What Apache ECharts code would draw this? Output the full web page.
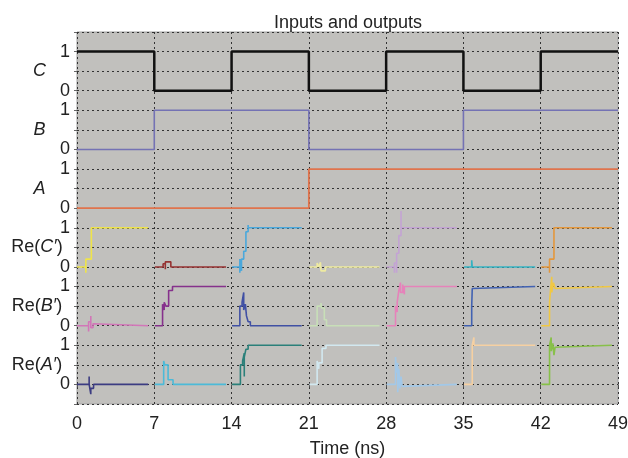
<!DOCTYPE html>
<html>
<head>
<meta charset="utf-8">
<script src="https://cdn.jsdelivr.net/npm/echarts@6/dist/echarts.min.js"></script>
<style>
    html, body { margin: 0; padding: 0; background: #fff; }
    #chart { width: 628px; height: 458px; }
</style>
</head>
<body>
<div id="chart"></div>
<script>
// input levels, one per 7 ns slot
const slotStarts = [0, 7, 14, 21, 28, 35, 42];
const endTime = 49;
const levelC = [1, 0, 1, 0, 1, 0, 1];
const levelB = [0, 1, 1, 0, 0, 1, 1];
const levelA = [0, 0, 0, 1, 1, 1, 1];

// output traces, [time, value] per slot
const outC = [
    [[0,0],[0.8,0],[0.8,-0.15],[0.8,0.2],[1.3,0.2],[1.3,1],[6.45,1]],
    [[7.05,0],[7.8,0],[7.8,0.08],[8.0,0.08],[8.0,-0.06],[8.0,0.13],[8.5,0.13],[8.5,0],[13.5,0]],
    [[14.05,0],[14.75,0],[14.75,-0.15],[14.75,0.2],[14.9,0.2],[14.9,-0.1],[14.9,0.2],[15.1,0.2],[15.1,0.4],[15.3,0.4],[15.3,0.9],[15.5,0.9],[15.5,1.07],[15.5,1],[20.35,1]],
    [[21.05,0],[21.75,0],[21.75,0.1],[21.9,0.1],[21.9,0],[22.05,0],[22.05,0.12],[22.1,0.12],[22.1,-0.1],[22.5,-0.1],[22.5,0],[27.4,0]],
    [[28.05,0],[28.75,0],[28.75,-0.15],[28.75,0.1],[28.95,0.1],[28.95,-0.15],[28.95,0.35],[29.15,0.35],[29.15,0.8],[29.35,0.8],[29.35,1.43],[29.35,1],[34.4,1]],
    [[35.05,0],[35.75,0],[35.75,0.17],[35.8,0.17],[35.8,0],[41.5,0]],
    [[42.05,0],[42.8,0],[42.8,-0.15],[42.8,0.2],[43.2,0.2],[43.2,1],[48.45,1]]
];
const outB = [
    [[0,0],[1.05,0],[1.05,-0.15],[1.05,0.1],[1.25,0.1],[1.25,0.25],[1.25,-0.05],[1.45,-0.05],[1.45,0.05],[1.6,0.05],[1.6,0],[6.45,0]],
    [[7.05,0],[7.75,0],[7.75,0.55],[7.9,0.55],[7.9,0.4],[7.9,0.6],[8.05,0.6],[8.05,0.5],[8.3,0.5],[8.3,0.9],[8.65,0.9],[8.65,1],[13.5,1]],
    [[14.05,0],[14.75,0],[14.75,0.5],[14.95,0.5],[14.95,0.6],[15.1,0.6],[15.1,0.85],[15.1,0.4],[15.25,0.4],[15.25,0.55],[15.35,0.55],[15.35,0.25],[15.5,0.25],[15.5,0.1],[15.7,0.1],[15.7,0],[20.35,0]],
    [[21.05,0],[21.75,0],[21.75,0.5],[22.1,0.5],[22.1,0.58],[22.15,0.58],[22.15,0.45],[22.4,0.45],[22.4,0.15],[22.6,0.15],[22.6,0],[27.4,0]],
    [[28.05,0],[28.85,0],[28.85,0.5],[29.0,0.5],[29.0,0.35],[29.0,0.6],[29.15,0.6],[29.15,0.9],[29.3,0.9],[29.3,1.1],[29.3,0.85],[29.5,0.85],[29.5,1.05],[29.65,1.05],[29.65,0.8],[29.65,1],[34.4,1]],
    [[35.05,0],[35.75,0],[35.75,0.5],[35.8,0.5],[35.8,0.95],[35.95,0.95],[35.95,1],[41.5,1]],
    [[42.05,0],[42.8,0],[42.8,0.6],[42.9,0.6],[42.9,0.95],[43.0,0.95],[43.0,1.25],[43.0,0.85],[43.15,0.85],[43.15,1.1],[43.3,1.1],[43.3,0.95],[43.45,0.95],[43.45,1],[48.45,1]]
];
const outA = [
    [[0,0],[1.1,0],[1.1,0.2],[1.1,0],[1.25,0],[1.25,-0.25],[1.25,-0.1],[1.5,-0.1],[1.5,0],[6.45,0]],
    [[7.05,0],[7.85,0],[7.85,0.6],[7.95,0.6],[7.95,0.5],[8.25,0.5],[8.25,0.12],[8.7,0.12],[8.7,0],[13.5,0]],
    [[14.05,0],[14.8,0],[14.8,0.5],[15.0,0.5],[15.0,0.6],[15.15,0.6],[15.15,0.8],[15.15,0.2],[15.15,0.7],[15.3,0.7],[15.3,0.9],[15.5,0.9],[15.5,1],[20.35,1]],
    [[21.05,0],[21.75,0],[21.75,0.6],[21.9,0.6],[21.9,0.4],[21.9,0.55],[22.2,0.55],[22.2,0.92],[22.55,0.92],[22.55,1],[27.4,1]],
    [[28.05,0],[28.85,0],[28.85,0.7],[28.95,0.7],[28.95,0.3],[29.05,0.3],[29.05,0.55],[29.05,-0.2],[29.15,-0.2],[29.15,0.4],[29.25,0.4],[29.25,-0.1],[29.35,-0.1],[29.35,0.2],[29.45,0.2],[29.45,-0.05],[29.6,-0.05],[29.6,0],[34.4,0]],
    [[35.05,0],[35.8,0],[35.8,1],[35.95,1],[35.95,1.2],[35.95,1],[41.5,1]],
    [[42.05,0],[42.8,0],[42.8,1],[42.95,1],[42.95,1.2],[42.95,0.85],[43.1,0.85],[43.1,1.05],[43.2,1.05],[43.2,0.75],[43.3,0.75],[43.3,0.95],[43.45,0.95],[43.45,1],[48.45,1]]
];

const colorsC = ['#efe44a', '#963232', '#4aa8dc', '#eeeaa0', '#c3a3d4', '#34b2c2', '#e4973c'];
const colorsB = ['#d276b8', '#86318c', '#4050a4', '#c8dfb8', '#e682ba', '#4262b2', '#f0c844'];
const colorsA = ['#3c3c82', '#4cbad8', '#2b807a', '#d2e8f0', '#a2c8e8', '#f6d0a2', '#88c04a'];

// vertical offset of each panel on the shared axis
const offC = 7.5, offB = 6, offA = 4.5, offCp = 3, offBp = 1.5, offAp = 0;
const oneLevels = [8.5, 7, 5.5, 4, 2.5, 1];
const zeroLevels = [7.5, 6, 4.5, 3, 1.5, 0];
const nameLevels = [8, 6.5, 5, 3.5, 2, 0.5];
const panelNames = ['{it|C}', '{it|B}', '{it|A}',
    '{n|Re(}{i2|C′}{n|)}', '{n|Re(}{i2|B′}{n|)}', '{n|Re(}{i2|A′}{n|)}'];

const font = 'Liberation Sans, Arial, sans-serif';

function stepData(levels, off) {
    let d = slotStarts.map((t, i) => [t, levels[i] + off]);
    d.push([endTime, levels[levels.length - 1] + off]);
    return d;
}
function shift(pts, off) {
    return pts.map(p => [p[0], p[1] + off]);
}

let series = [];
function addInput(levels, off, color, width) {
    series.push({
        type: 'line', step: 'end', showSymbol: false, silent: true,
        data: stepData(levels, off),
        lineStyle: { color: color, width: width }
    });
}
addInput(levelC, offC, '#111111', 2.5);
addInput(levelB, offB, '#7472b4', 1.6);
addInput(levelA, offA, '#e0734c', 1.8);

function addOutputs(segs, off, colors) {
    segs.forEach((s, i) => {
        series.push({
            type: 'line', showSymbol: false, silent: true,
            data: shift(s, off),
            lineStyle: { color: colors[i], width: 1.6 }
        });
    });
}
addOutputs(outC, offCp, colorsC);
addOutputs(outB, offBp, colorsB);
addOutputs(outA, offAp, colorsA);

let myChart = echarts.init(document.getElementById('chart'));
let dotted = { color: '#333', width: 1, type: [2, 3] };
let option = {
    animation: false,
    backgroundColor: '#ffffff',
    title: {
        text: 'Inputs and outputs',
        left: 269, top: 9,
        textStyle: { fontFamily: font, fontSize: 18, fontWeight: 'normal', color: '#222' }
    },
    grid: {
        left: 77, right: 10, top: 32, bottom: 54,
        outerBoundsMode: 'none', containLabel: false,
        show: true, backgroundColor: '#c1c0bd', borderColor: '#a0a0a0', borderWidth: 1
    },
    xAxis: {
        type: 'value', min: 0, max: endTime, interval: 7,
        name: 'Time (ns)', nameLocation: 'middle', nameGap: 36,
        nameTextStyle: { fontFamily: font, fontSize: 18, color: '#222' },
        axisLine: { show: false },
        axisTick: { show: true, length: 3, lineStyle: { color: '#555' } },
        axisLabel: { fontFamily: font, fontSize: 18, color: '#222', margin: 11 },
        splitLine: { show: true, lineStyle: dotted }
    },
    yAxis: [{
        type: 'value', min: -0.5, max: 9, interval: 0.5, position: 'left',
        axisLine: { show: false },
        axisTick: { show: true, length: 3, lineStyle: { color: '#666' } },
        axisLabel: {
            fontFamily: font, fontSize: 18, color: '#222', margin: 7,
            formatter: function (v) {
                if (oneLevels.indexOf(v) >= 0) return '1';
                if (zeroLevels.indexOf(v) >= 0) return '0';
                return '';
            }
        },
        splitLine: { show: true, lineStyle: dotted }
    }, {
        type: 'value', min: -0.5, max: 9, interval: 0.5, position: 'left', offset: 0,
        axisLine: { show: false }, axisTick: { show: false }, splitLine: { show: false },
        axisLabel: {
            margin: 40, align: 'center',
            formatter: function (v) {
                let i = nameLevels.indexOf(v);
                return i >= 0 ? panelNames[i] : '';
            },
            rich: {
                it: { fontFamily: font, fontSize: 18, fontStyle: 'italic', color: '#222', padding: [0, 0, 0, 5] },
                i2: { fontFamily: font, fontSize: 18, fontStyle: 'italic', color: '#222' },
                n: { fontFamily: font, fontSize: 18, color: '#222' }
            }
        }
    }],
    series: series
};
myChart.setOption(option);
</script>
</body>
</html>
